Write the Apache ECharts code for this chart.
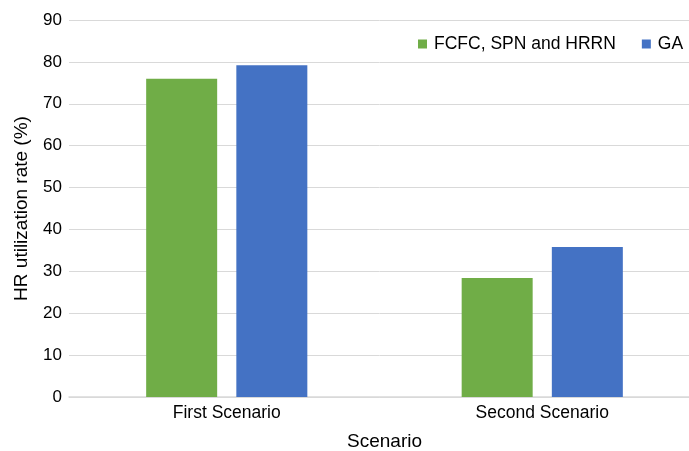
<!DOCTYPE html>
<html><head><meta charset="utf-8">
<script src="https://cdn.jsdelivr.net/npm/echarts@6/dist/echarts.min.js"></script>
<style>html,body{margin:0;padding:0;background:#fff}#c{width:689px;height:451px}</style>
</head><body><div id="c"></div>
<script>
var categories = ['First Scenario', 'Second Scenario'];
var seriesNames = ['FCFC, SPN and HRRN', 'GA'];
var heuristicValues = [76, 28.4];
var gaValues = [79.2, 35.8];
var yTicks = [0, 10, 20, 30, 40, 50, 60, 70, 80, 90];

var font = 'Liberation Sans, Arial, Helvetica, sans-serif';
var chart = echarts.init(document.getElementById('c'), null, {renderer: 'canvas'});
chart.setOption({
  animation: false,
  textStyle: {fontFamily: font, color: '#000'},
  grid: {left: 69, right: -11, top: 20, bottom: 54, containLabel: false, outerBoundsMode: 'none'},
  legend: {
    orient: 'horizontal',
    left: 418, top: 35, width: 280,
    padding: 0,
    itemWidth: 9, itemHeight: 9, itemGap: 26,
    icon: 'rect',
    textStyle: {fontFamily: font, fontSize: 17.5, color: '#000', padding: [0, 0, 0, 2]},
    data: seriesNames
  },
  xAxis: {
    type: 'category',
    data: categories,
    name: 'Scenario',
    nameLocation: 'middle',
    nameGap: 35,
    nameTextStyle: {fontFamily: font, fontSize: 19, color: '#000'},
    axisLine: {lineStyle: {color: '#d9d9d9', width: 1.5}},
    axisTick: {show: false},
    axisLabel: {fontFamily: font, fontSize: 17.5, color: '#000', margin: 7}
  },
  yAxis: {
    type: 'value',
    min: yTicks[0], max: yTicks[yTicks.length - 1], interval: 10,
    name: 'HR utilization rate (%)',
    nameLocation: 'middle',
    nameGap: 38,
    nameTextStyle: {fontFamily: font, fontSize: 19, color: '#000'},
    axisLine: {show: false},
    axisTick: {show: false},
    axisLabel: {fontFamily: font, fontSize: 17, color: '#000', margin: 7},
    splitLine: {lineStyle: {color: '#d9d9d9', width: 1}}
  },
  series: [
    {name: seriesNames[0], type: 'bar', data: heuristicValues, barWidth: 71, barGap: '27%',
     itemStyle: {color: '#70ad47'}},
    {name: seriesNames[1], type: 'bar', data: gaValues, barWidth: 71, barGap: '27%',
     itemStyle: {color: '#4472c4'}}
  ]
});
</script></body></html>
